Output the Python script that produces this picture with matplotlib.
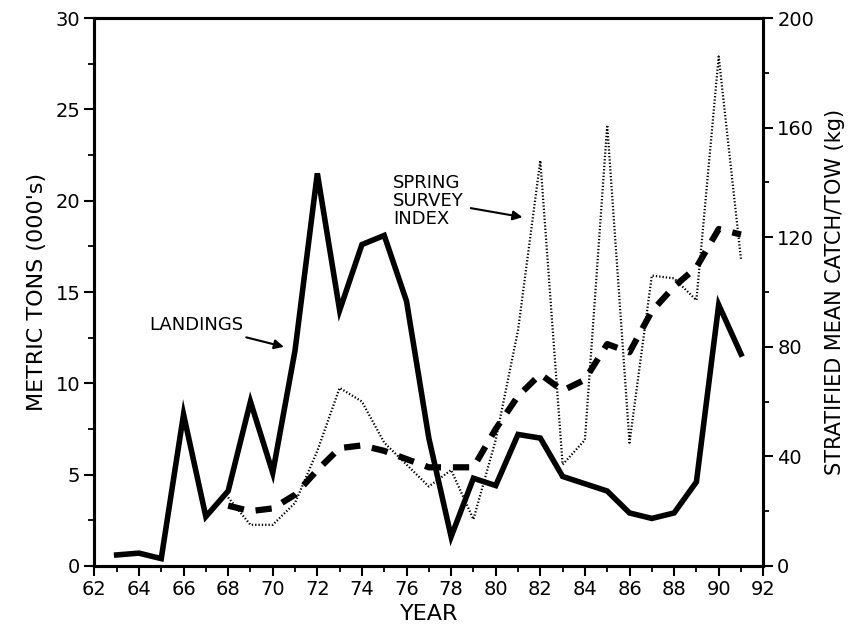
import matplotlib
matplotlib.use("Agg")
from matplotlib import pyplot as plt
from matplotlib.ticker import MultipleLocator
import numpy as np

# landings, thousands of metric tons
land_years = list(range(63, 92))
landings = [0.6, 0.7, 0.4, 8.3, 2.7, 4.1, 9.0, 5.1, 11.8, 21.5, 14.0, 17.6, 18.1, 14.5,
            7.0, 1.6, 4.8, 4.4, 7.2, 7.0, 4.9, 4.5, 4.1, 2.9, 2.6, 2.9, 4.6, 14.3, 11.6]

# spring survey index, kg per tow (raw and smoothed)
surv_years = list(range(68, 92))
survey = [25, 15, 15, 23, 42, 65, 60, 45, 37, 29, 35, 17, 46, 86, 148, 37, 46, 161,
          45, 106, 105, 97, 186, 112]
survey_smooth = [22, 20, 21, 26, 35, 43, 44, 42, 39, 36, 36, 36, 50, 62, 70, 64, 68, 81,
                 78, 93, 102, 109, 123, 121]

plt.rcParams['font.family'] = ['DejaVu Sans']

fig = plt.figure(figsize=(8.5, 6.26), dpi=100)
ax = fig.add_axes([0.111, 0.096, 0.787, 0.875])
ax2 = ax.twinx()

ax.plot(land_years, landings, color="black", lw=4, solid_joinstyle="miter", zorder=3)
ax2.plot(surv_years, survey, color="black", lw=1.6, linestyle=(0, (0.6, 0.9)))
ax2.plot(surv_years, survey_smooth, color="black", lw=4.5, linestyle=(0, (2.6, 1.9)),
         dash_capstyle="butt")

ax.set_xlim(62, 92)
ax.set_ylim(0, 30)
ax2.set_ylim(0, 200)

ax.xaxis.set_major_locator(MultipleLocator(2))
ax.xaxis.set_minor_locator(MultipleLocator(1))
ax.yaxis.set_major_locator(MultipleLocator(5))
ax.yaxis.set_minor_locator(MultipleLocator(2.5))
ax2.yaxis.set_major_locator(MultipleLocator(40))
ax2.yaxis.set_minor_locator(MultipleLocator(20))

for a in (ax, ax2):
    for s in a.spines.values():
        s.set_linewidth(2.2)
    a.tick_params(which="major", length=7, width=1.5, labelsize=14, direction="out", pad=3)
    a.tick_params(which="minor", length=4, width=1.3, direction="out")

ax.set_xlabel("YEAR", fontsize=16, labelpad=4)
ax.set_ylabel("METRIC TONS (000's)", fontsize=16, labelpad=6)
ax2.set_ylabel("STRATIFIED MEAN CATCH/TOW (kg)", fontsize=15, labelpad=8)

ax.annotate("LANDINGS", xy=(70.5, 12.0), xytext=(68.7, 13.2), fontsize=13,
            ha="right", va="center",
            arrowprops=dict(arrowstyle="-|>", color="black", lw=1.5, mutation_scale=14,
                            shrinkA=2, shrinkB=0))
ax.annotate("SPRING\nSURVEY\nINDEX", xy=(81.2, 19.1), xytext=(75.4, 20.0), fontsize=13,
            ha="left", va="center", linespacing=1.0,
            arrowprops=dict(arrowstyle="-|>", color="black", lw=1.5, mutation_scale=14,
                            shrinkA=3, shrinkB=0))

plt.savefig("out.png", dpi=100)
